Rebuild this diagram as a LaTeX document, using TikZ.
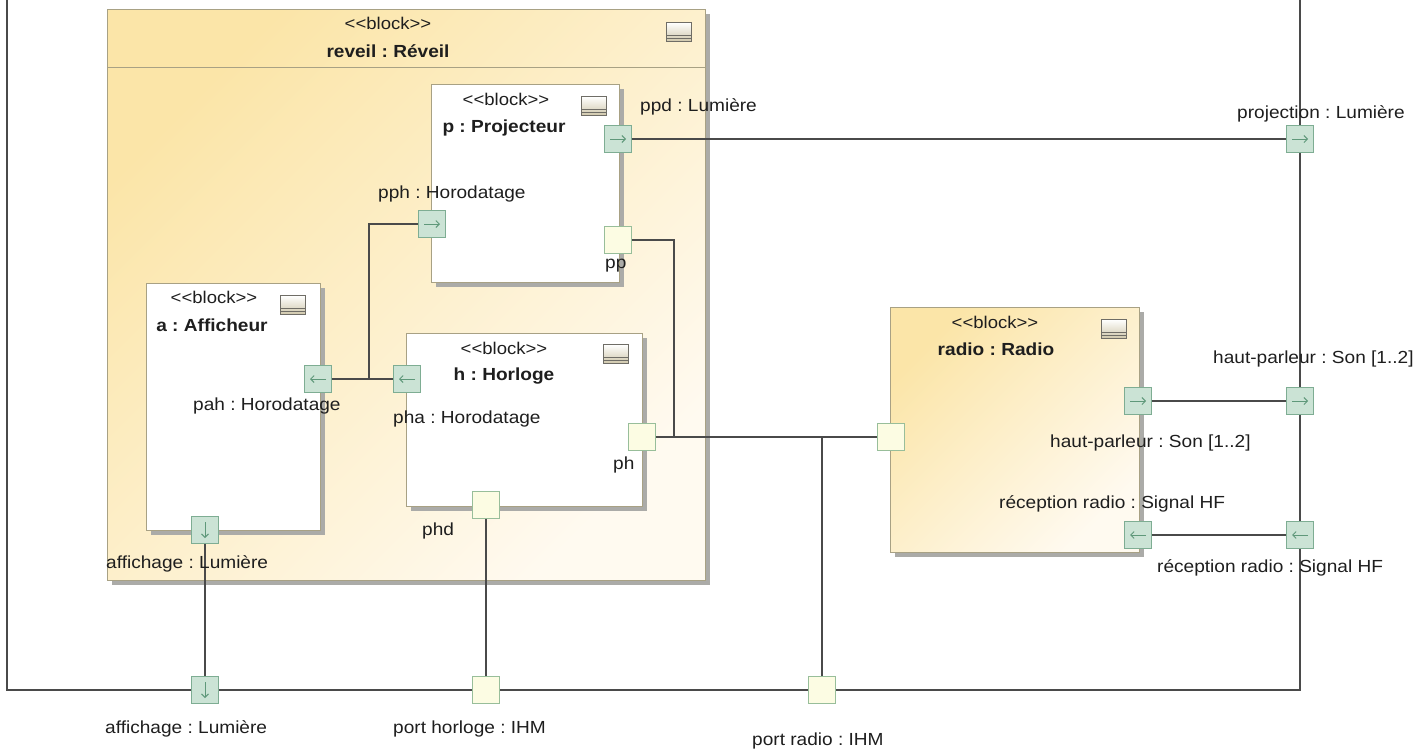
\documentclass[tikz,border=0pt]{standalone}
\usepackage{fontspec}
\setmainfont{Liberation Sans}[FakeStretch=1.09]
\usetikzlibrary{arrows.meta,shadows}

\definecolor{wirecol}{HTML}{4A4A4A}
\definecolor{blockedge}{HTML}{A8A184}
\definecolor{shadowgray}{HTML}{ABABA8}
\definecolor{goldtop}{HTML}{FBE5A8}
\definecolor{goldbottom}{HTML}{FFFAF0}
\definecolor{portfill}{HTML}{CBE3D5}
\definecolor{portedge}{HTML}{7EAD93}
\definecolor{portarrow}{HTML}{5F987A}
\definecolor{plainfill}{HTML}{FCFCE3}
\definecolor{plainedge}{HTML}{98BE9A}
\definecolor{inktext}{HTML}{1E1E1E}
\definecolor{iconedge}{HTML}{6F6D66}
\definecolor{iconlow}{HTML}{CFC6AA}

% stereotype text, with the angle brackets kept apart
\newcommand\stereotxt{<{}<block>{}>}

\tikzset{
  blk/.style={draw=blockedge, line width=1pt, inner sep=0pt, anchor=north west,
    general shadow={fill=shadowgray, shadow xshift=4pt, shadow yshift=-4pt}},
  whiteblk/.style={blk, fill=white},
  goldblk/.style={blk, top color=goldtop, bottom color=goldbottom, shading angle=45},
  port/.style={rectangle, minimum size=27pt, inner sep=0pt, line width=0.9pt},
  gport/.style={port, draw=portedge, fill=portfill},
  pport/.style={port, draw=plainedge, fill=plainfill},
  parrow/.style={draw=portarrow, line width=0.9pt, -{Straight Barb[length=3.5pt,width=7pt]}},
  portR/.style={gport, path picture={\draw[parrow]
      ([xshift=-8pt]path picture bounding box.center) -- ([xshift=8pt]path picture bounding box.center);}},
  portL/.style={gport, path picture={\draw[parrow]
      ([xshift=8pt]path picture bounding box.center) -- ([xshift=-8pt]path picture bounding box.center);}},
  portD/.style={gport, path picture={\draw[parrow]
      ([yshift=8pt]path picture bounding box.center) -- ([yshift=-8pt]path picture bounding box.center);}},
  icon/.style={rectangle, minimum width=25pt, minimum height=19pt, inner sep=0pt,
    draw=iconedge, line width=0.9pt, top color=white, bottom color=iconlow,
    path picture={
      \draw[iconedge, line width=1pt]
        ([yshift=-3pt]path picture bounding box.west) -- ([yshift=-3pt]path picture bounding box.east)
        ([yshift=-6pt]path picture bounding box.west) -- ([yshift=-6pt]path picture bounding box.east);}},
  stereo/.style={anchor=base, inner sep=0pt, font=\fontsize{17}{20}\selectfont, text=inktext},
  bname/.style={anchor=base, inner sep=0pt, font=\fontsize{17.5}{20}\selectfont\bfseries, text=inktext},
  lbl/.style={anchor=base west, inner sep=0pt, font=\fontsize{17.5}{20}\selectfont, text=inktext},
  wire/.style={draw=wirecol, line width=1.2pt},
}

\begin{document}
\frenchspacing
\begin{tikzpicture}[x=1pt, y=-1pt]
\useasboundingbox (0,0) rectangle (1421,748);

% enclosing frame of the context block
\draw[wire] (7,0) -- (7,690) -- (1300,690) -- (1300,0);

% composite block reveil
\node[goldblk, minimum width=598pt, minimum height=571pt] (reveil) at (107,9) {};
\draw[draw=blockedge, line width=1pt] (107,67) -- (705,67);
\node[stereo] (reveilS) at (388,29) {\stereotxt};
\node[bname] (reveilN) at (388,57) {reveil : Réveil};
\node[icon] (reveilI) at (679,32) {};

% parts
\node[whiteblk, minimum width=188pt, minimum height=198pt] (proj) at (431,84) {};
\node[stereo] (projS) at (506,105) {\stereotxt};
\node[bname] (projN) at (504,132) {p : Projecteur};
\node[icon] (projI) at (594,106) {};

\node[whiteblk, minimum width=174pt, minimum height=247pt] (aff) at (146,283) {};
\node[stereo] (affS) at (214,303) {\stereotxt};
\node[bname] (affN) at (212,331) {a : Afficheur};
\node[icon] (affI) at (293,305) {};

\node[whiteblk, minimum width=236pt, minimum height=173pt] (horl) at (406,333) {};
\node[stereo] (horlS) at (504,354) {\stereotxt};
\node[bname] (horlN) at (504,380) {h : Horloge};
\node[icon] (horlI) at (616,354) {};

% radio block
\node[goldblk, minimum width=249pt, minimum height=245pt] (radio) at (890,307) {};
\node[stereo] (radioS) at (995,328) {\stereotxt};
\node[bname] (radioN) at (996,355) {radio : Radio};
\node[icon] (radioI) at (1114,329) {};

% ports
\node[portR] (ppd) at (618,139) {};
\node[portR] (pph) at (432,224) {};
\node[pport] (pp) at (618,240) {};
\node[portL] (pah) at (318,379) {};
\node[portL] (pha) at (407,379) {};
\node[pport] (ph) at (642,437) {};
\node[pport] (phd) at (486,505) {};
\node[portD] (affA) at (205,530) {};
\node[pport] (radioIn) at (891,437) {};
\node[portR] (hpR) at (1138,401) {};
\node[portL] (rrR) at (1138,535) {};
\node[portR] (projF) at (1300,139) {};
\node[portR] (hpF) at (1300,401) {};
\node[portL] (rrF) at (1300,535) {};
\node[portD] (affF) at (205,690) {};
\node[pport] (horF) at (486,690) {};
\node[pport] (radF) at (822,690) {};

% connectors
\coordinate (j1) at (369,379);
\coordinate (j2) at (674,437);
\coordinate (j3) at (822,437);
\draw[wire] (ppd.east) -- (projF.west);
\draw[wire] (pah.east) -- (pha.west);
\draw[wire] (pph.west) -| (j1);
\draw[wire] (pp.east) -| (j2);
\draw[wire] (ph.east) -- (radioIn.west);
\draw[wire] (j3) -- (radF.north);
\draw[wire] (phd.south) -- (horF.north);
\draw[wire] (affA.south) -- (affF.north);
\draw[wire] (hpR.east) -- (hpF.west);
\draw[wire] (rrR.east) -- (rrF.west);

% port labels
\node[lbl] (ppdL) at (640,111) {ppd : Lumière};
\node[lbl] (pphL) at (378,198) {pph : Horodatage};
\node[lbl] (ppL) at (605,268) {pp};
\node[lbl] (pahL) at (193,410) {pah : Horodatage};
\node[lbl] (phaL) at (393,423) {pha : Horodatage};
\node[lbl] (phL) at (613,469) {ph};
\node[lbl] (phdL) at (422,535) {phd};
\node[lbl] (affAL) at (106,568) {affichage : Lumière};
\node[lbl] (projFL) at (1237,118) {projection : Lumière};
\node[lbl] (hpFL) at (1213,363) {haut-parleur : Son [1..2]};
\node[lbl] (hpRL) at (1050,447) {haut-parleur : Son [1..2]};
\node[lbl] (rrRL) at (999,508) {réception radio : Signal HF};
\node[lbl] (rrFL) at (1157,572) {réception radio : Signal HF};
\node[lbl] (affFL) at (105,733) {affichage : Lumière};
\node[lbl] (horFL) at (393,733) {port horloge : IHM};
\node[lbl] (radFL) at (752,745) {port radio : IHM};
\end{tikzpicture}
\end{document}
